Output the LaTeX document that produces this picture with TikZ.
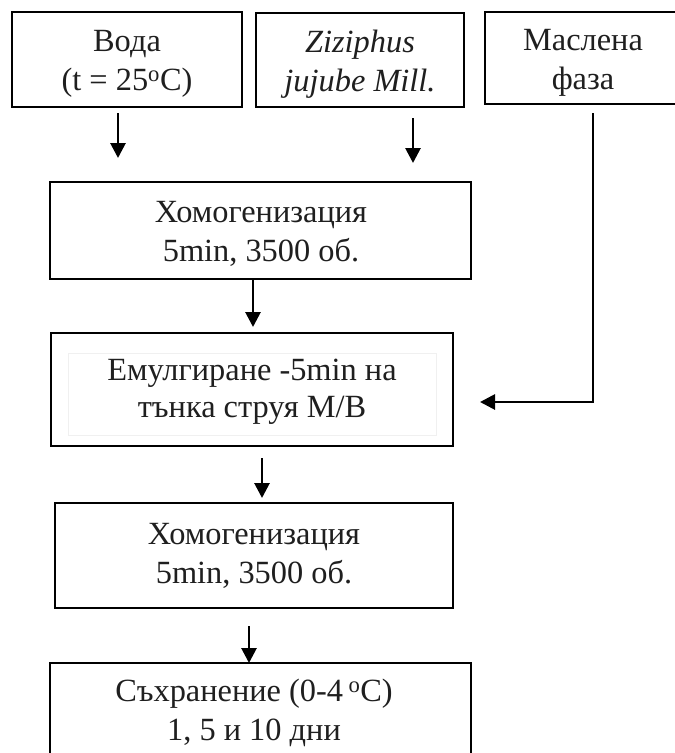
\documentclass[tikz,border=0pt]{standalone}
\usepackage{fontspec}
\setmainfont{Liberation Serif}
\usetikzlibrary{arrows.meta}
\begin{document}
\begin{tikzpicture}[x=1bp,y=-1bp,
  box/.style={draw=black,line width=2.2bp,inner sep=0pt,outer sep=0pt},
  label/.style={align=center,inner sep=0pt,text=black!88,font=\fontsize{32.5}{39}\selectfont},
  arr/.style={line width=2.8bp,-{Triangle[length=15bp,width=15bp]}}]
\useasboundingbox (0,0) rectangle (675,753);
\clip (0,0) rectangle (675,753);
\fill[white] (0,0) rectangle (675,753);

% source boxes
\node[box,minimum width=230bp,minimum height=95bp,anchor=north west] (water) at (12,12) {};
\node[box,minimum width=208bp,minimum height=94bp,anchor=north west] (plant) at (256,13) {};
\node[box,minimum width=200bp,minimum height=92bp,anchor=north west] (oil) at (485,12) {};

% process boxes
\node[box,minimum width=421bp,minimum height=97bp,anchor=north west] (homA) at (50,182) {};
\node[box,minimum width=402bp,minimum height=113bp,anchor=north west] (emul) at (51,333) {};
\node[box,minimum width=398bp,minimum height=105bp,anchor=north west] (homB) at (55,503) {};
\node[box,minimum width=421bp,minimum height=110bp,anchor=north west] (store) at (50,663) {};

% faint text frame inside the emulsification box
\draw[black!6,line width=0.6bp] (68,353) rectangle (436,435);

% labels
\node[label] (tWater) at (127,64) {Вода\\(t = 25\textsuperscript{o}C)};
\node[label] (tPlant) at (360,64) {\itshape Ziziphus\\\itshape jujube Mill.};
\node[label] (tOil) at (583,63) {Маслена\\фаза};
\node[label] (tHomA) at (261,234) {Хомогенизация\\5min, 3500 об.};
\node[label,font=\fontsize{32.5}{37}\selectfont] (tEmul) at (252,392) {Емулгиране -5min на\\тънка струя М/В};
\node[label] (tHomB) at (254,556) {Хомогенизация\\5min, 3500 об.};
\node[label] (tStore) at (254,713) {Съхранение (0-4\,\textsuperscript{o}C)\\1, 5 и 10 дни};

% connector end points
\coordinate (w1) at (118,113);
\coordinate (w2) at (118,158);
\coordinate (p1) at (413,118);
\coordinate (p2) at (413,163);
\coordinate (o1) at (593,113);
\coordinate (o2) at (593,402);
\coordinate (o3) at (480,402);
\coordinate (h1) at (253,279);
\coordinate (h2) at (253,327);
\coordinate (e1) at (262,458);
\coordinate (e2) at (262,498);
\coordinate (g1) at (249,626);
\coordinate (g2) at (249,663);

% connectors
\draw[arr] (w1) -- (w2);
\draw[arr] (p1) -- (p2);
\draw[arr] (o1) -- (o2) -- (o3);
\draw[arr] (h1) -- (h2);
\draw[arr] (e1) -- (e2);
\draw[arr] (g1) -- (g2);
\end{tikzpicture}
\end{document}
